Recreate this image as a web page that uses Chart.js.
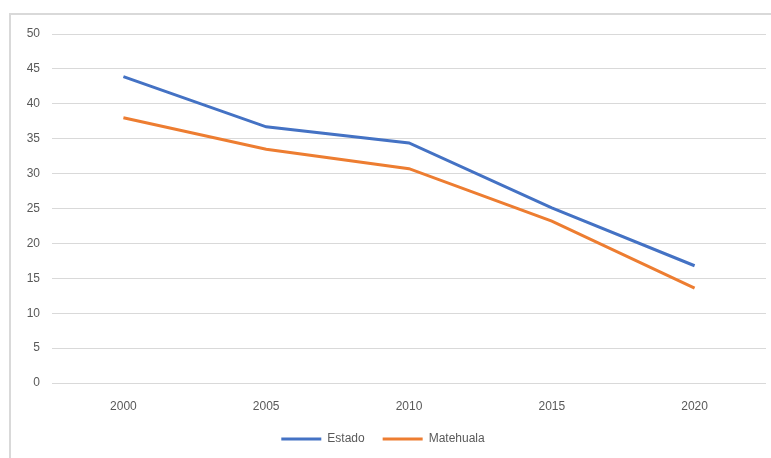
<!DOCTYPE html>
<html>
<head>
<meta charset="utf-8">
<script src="https://cdn.jsdelivr.net/npm/chart.js@4/dist/chart.umd.min.js"></script>
<style>
  html,body{margin:0;padding:0;background:#fff;}
  #wrap{position:relative;width:771px;height:458px;overflow:hidden;}
  #frame{position:absolute;left:9px;top:13px;width:790px;height:480px;border:2px solid #d9d9d9;box-sizing:border-box;}
  canvas{position:absolute;left:0;top:0;}
</style>
</head>
<body>
<div id="wrap">
  <div id="frame"></div>
  <canvas id="chart" width="771" height="458"></canvas>
</div>
<script>
  const years = ['2000','2005','2010','2015','2020'];
  const estado = [43.9, 36.7, 34.4, 25.1, 16.8];
  const matehuala = [38.0, 33.5, 30.7, 23.2, 13.6];
  const yMin = 0, yMax = 50, yStep = 5;

  const grey = '#595959';
  const font = { family: 'Liberation Sans, Arial, sans-serif', size: 12 };

  new Chart(document.getElementById('chart'), {
    type: 'line',
    data: {
      labels: years,
      datasets: [
        { label: 'Estado', data: estado, borderColor: '#4472C4', backgroundColor: '#4472C4', borderWidth: 3, pointRadius: 0, tension: 0 },
        { label: 'Matehuala', data: matehuala, borderColor: '#ED7D31', backgroundColor: '#ED7D31', borderWidth: 3, pointRadius: 0, tension: 0 }
      ]
    },
    options: {
      responsive: false,
      animation: false,
      layout: { padding: { left: 0, right: 5, top: 34, bottom: 3 } },
      plugins: {
        tooltip: { enabled: false },
        legend: {
          position: 'bottom',
          labels: {
            color: grey, font: font,
            usePointStyle: true, pointStyle: 'line', pointStyleWidth: 40,
            padding: 18
          }
        }
      },
      scales: {
        x: {
          offset: true,
          afterFit: (s) => { s.height = 32; },
          grid: { display: false, drawTicks: false },
          border: { display: false },
          ticks: { color: grey, font: font, padding: 16 }
        },
        y: {
          min: yMin, max: yMax,
          afterFit: (s) => { s.width = 52; },
          grid: { color: '#d9d9d9', lineWidth: 1, drawTicks: false },
          border: { display: false },
          ticks: { stepSize: yStep, color: grey, font: font, padding: 12 }
        }
      }
    }
  });
</script>
</body>
</html>
